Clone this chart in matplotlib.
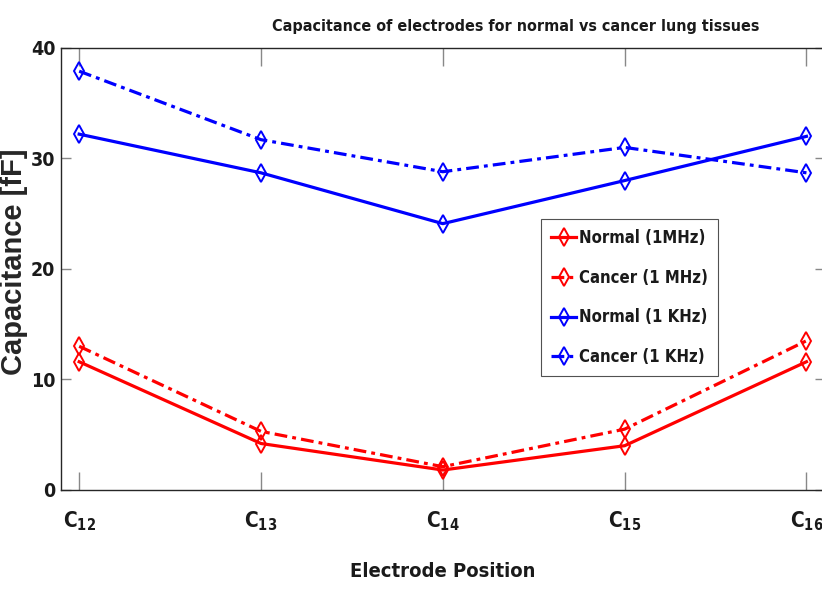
import matplotlib
matplotlib.use("Agg")
import matplotlib.pyplot as plt

# electrode positions and capacitance readings (fF)
electrodes = [12, 13, 14, 15, 16]
tick_labels = [f"C$_{{{e}}}$" for e in electrodes]
normal_1mhz = [11.6, 4.2, 1.8, 4.0, 11.6]
cancer_1mhz = [13.0, 5.3, 2.1, 5.5, 13.5]
normal_1khz = [32.2, 28.7, 24.1, 28.0, 32.0]
cancer_1khz = [37.9, 31.7, 28.8, 31.0, 28.7]

TXT = "#1a1a1a"
plt.rcParams["font.family"] = ["DejaVu Sans"]
plt.rcParams["font.stretch"] = "condensed"
plt.rcParams["font.weight"] = "bold"
plt.rcParams["mathtext.fontset"] = "custom"
plt.rcParams["mathtext.rm"] = "DejaVu Sans:stretch=condensed:bold"
plt.rcParams["mathtext.default"] = "regular"

fig = plt.figure(figsize=(8.22, 5.96), dpi=100)
ax = fig.add_axes([0.0742, 0.178, 0.929, 0.7415])

dashdot = (0, (4, 1.6, 1.2, 1.6))
series = [
    (normal_1mhz, "red", "-", "Normal (1MHz)"),
    (cancer_1mhz, "red", dashdot, "Cancer (1 MHz)"),
    (normal_1khz, "blue", "-", "Normal (1 KHz)"),
    (cancer_1khz, "blue", dashdot, "Cancer (1 KHz)"),
]
for vals, col, ls, lab in series:
    ax.plot(electrodes, vals, color=col, ls=ls, lw=2.3, marker="d",
            ms=9, mfc="none", mec=col, mew=1.4, label=lab)

ax.set_xlim(11.9, 16.1)
ax.set_ylim(0, 40)
ax.set_xticks(electrodes)
ax.set_xticklabels(tick_labels)
ax.set_yticks([0, 10, 20, 30, 40])
ax.tick_params(axis="both", direction="in", color="#888888",
               labelcolor=TXT, top=True, right=True, width=1.0)
ax.tick_params(axis="x", length=13, pad=14, labelsize=15)
ax.tick_params(axis="y", length=7, pad=4, labelsize=14)
for s in ax.spines.values():
    s.set_color("#262626")
    s.set_linewidth(1.0)

ax.set_title("Capacitance of electrodes for normal vs cancer lung tissues",
             fontsize=11.5, fontweight="bold", color=TXT, x=0.595, pad=12)
ax.set_xlabel("Electrode Position", fontsize=14.5, fontweight="bold", color=TXT)
ax.xaxis.set_label_coords(0.5, -0.163)
ax.set_ylabel("Capacitance [fF]", fontsize=21, fontweight="bold", color="#262626",
              family=["Liberation Sans", "DejaVu Sans"], fontstretch="normal")
ax.yaxis.set_label_coords(-0.043, 0.516)

leg = ax.legend(loc="upper left", bbox_to_anchor=(0.629, 0.613), fontsize=12,
                frameon=True, fancybox=False, edgecolor="#262626",
                handlelength=1.5, handletextpad=0.15, labelspacing=1.3,
                borderpad=0.6, borderaxespad=0)
leg.get_frame().set_linewidth(0.8)
for t in leg.get_texts():
    t.set_color(TXT)

fig.savefig("out.png", dpi=100)
